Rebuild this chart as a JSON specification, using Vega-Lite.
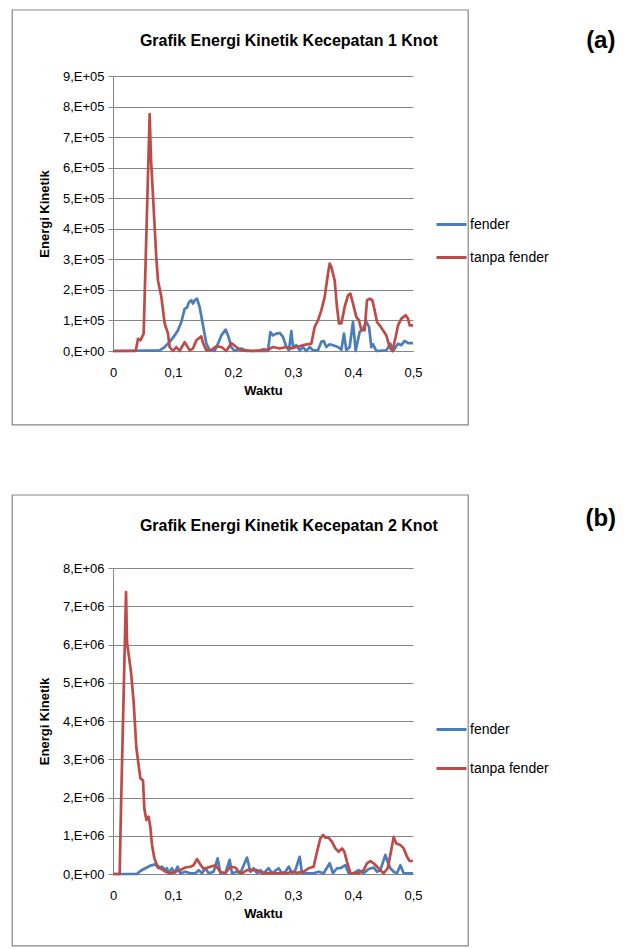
{
"$schema": "https://vega.github.io/schema/vega-lite/v6.json",
"padding": {"left": 11, "top": 9, "right": 5, "bottom": 3},
"background": "white",
"spacing": 68,
"config": {
  "view": {"stroke": null},
  "font": "Liberation Sans",
  "axis": {"labelFont": "Liberation Sans", "titleFont": "Liberation Sans", "labelFontSize": 13, "titleFontSize": 13, "titleFontWeight": "bold", "labelColor": "#000", "titleColor": "#000", "domainColor": "#868686", "tickColor": "#868686", "gridColor": "#868686", "gridOpacity": 1, "labelFlush": false, "labelOverlap": false},
  "axisX": {"tickCount": 5, "grid": false, "ticks": false, "labelPadding": 15, "titlePadding": 5, "labelExpr": "datum.value == 0 ? '0' : replace(format(datum.value, '.1f'), '.', ',')"},
  "axisY": {"tickCount": 10, "grid": true, "tickSize": 5, "labelPadding": 4, "titlePadding": 11, "labelExpr": "datum.value == 0 ? '0,E+00' : (datum.value >= 1000000 ? format(datum.value / 1000000, 'd') + ',E+06' : format(datum.value / 100000, 'd') + ',E+05')"},
  "legend": {"labelFont": "Liberation Sans", "labelFontSize": 14, "labelColor": "#000"}
},
"datasets": {
 "a": [
  {"s":"fender","t":0,"v":0},{"s":"fender","t":0.0778,"v":2000},{"s":"fender","t":0.0861,"v":13000},{"s":"fender","t":0.0944,"v":30000},{"s":"fender","t":0.1028,"v":51000},{"s":"fender","t":0.1083,"v":68000},{"s":"fender","t":0.1139,"v":95000},{"s":"fender","t":0.1194,"v":138000},{"s":"fender","t":0.1233,"v":142000},{"s":"fender","t":0.1267,"v":160000},{"s":"fender","t":0.1306,"v":166000},{"s":"fender","t":0.1333,"v":155000},{"s":"fender","t":0.1361,"v":166000},{"s":"fender","t":0.14,"v":171000},{"s":"fender","t":0.1444,"v":144000},{"s":"fender","t":0.15,"v":84000},{"s":"fender","t":0.1556,"v":24000},{"s":"fender","t":0.1611,"v":2000},{"s":"fender","t":0.1694,"v":0},{"s":"fender","t":0.175,"v":24000},{"s":"fender","t":0.1806,"v":51000},{"s":"fender","t":0.1878,"v":70000},{"s":"fender","t":0.1917,"v":51000},{"s":"fender","t":0.1972,"v":13000},{"s":"fender","t":0.2028,"v":0},{"s":"fender","t":0.2139,"v":8000},{"s":"fender","t":0.2222,"v":0},{"s":"fender","t":0.2583,"v":0},{"s":"fender","t":0.2622,"v":62000},{"s":"fender","t":0.2667,"v":51000},{"s":"fender","t":0.2722,"v":57000},{"s":"fender","t":0.2778,"v":59000},{"s":"fender","t":0.2833,"v":46000},{"s":"fender","t":0.2889,"v":13000},{"s":"fender","t":0.2933,"v":2000},{"s":"fender","t":0.2972,"v":65000},{"s":"fender","t":0.3,"v":13000},{"s":"fender","t":0.3056,"v":19000},{"s":"fender","t":0.3111,"v":2000},{"s":"fender","t":0.3167,"v":13000},{"s":"fender","t":0.3222,"v":0},{"s":"fender","t":0.3278,"v":13000},{"s":"fender","t":0.3333,"v":2000},{"s":"fender","t":0.3417,"v":2000},{"s":"fender","t":0.3472,"v":30000},{"s":"fender","t":0.3511,"v":33000},{"s":"fender","t":0.3556,"v":13000},{"s":"fender","t":0.3611,"v":22000},{"s":"fender","t":0.3667,"v":19000},{"s":"fender","t":0.375,"v":13000},{"s":"fender","t":0.3806,"v":4000},{"s":"fender","t":0.385,"v":57000},{"s":"fender","t":0.3889,"v":2000},{"s":"fender","t":0.3944,"v":13000},{"s":"fender","t":0.4,"v":95000},{"s":"fender","t":0.4044,"v":0},{"s":"fender","t":0.4111,"v":62000},{"s":"fender","t":0.4167,"v":73000},{"s":"fender","t":0.4222,"v":95000},{"s":"fender","t":0.4267,"v":79000},{"s":"fender","t":0.4306,"v":13000},{"s":"fender","t":0.4333,"v":22000},{"s":"fender","t":0.4389,"v":0},{"s":"fender","t":0.4556,"v":2000},{"s":"fender","t":0.4622,"v":24000},{"s":"fender","t":0.4667,"v":0},{"s":"fender","t":0.475,"v":24000},{"s":"fender","t":0.4806,"v":19000},{"s":"fender","t":0.4861,"v":33000},{"s":"fender","t":0.4917,"v":26000},{"s":"fender","t":0.5,"v":26000},
  {"s":"tanpa fender","t":0,"v":0},{"s":"tanpa fender","t":0.0378,"v":0},{"s":"tanpa fender","t":0.0417,"v":40000},{"s":"tanpa fender","t":0.0456,"v":35000},{"s":"tanpa fender","t":0.0511,"v":57000},{"s":"tanpa fender","t":0.0611,"v":775000},{"s":"tanpa fender","t":0.0633,"v":630000},{"s":"tanpa fender","t":0.0722,"v":305000},{"s":"tanpa fender","t":0.075,"v":230000},{"s":"tanpa fender","t":0.0806,"v":177000},{"s":"tanpa fender","t":0.0861,"v":90000},{"s":"tanpa fender","t":0.0917,"v":57000},{"s":"tanpa fender","t":0.0944,"v":13000},{"s":"tanpa fender","t":0.1,"v":0},{"s":"tanpa fender","t":0.1056,"v":13000},{"s":"tanpa fender","t":0.1111,"v":0},{"s":"tanpa fender","t":0.1194,"v":29000},{"s":"tanpa fender","t":0.1278,"v":2000},{"s":"tanpa fender","t":0.1333,"v":8000},{"s":"tanpa fender","t":0.1389,"v":35000},{"s":"tanpa fender","t":0.1472,"v":48000},{"s":"tanpa fender","t":0.15,"v":26000},{"s":"tanpa fender","t":0.1556,"v":2000},{"s":"tanpa fender","t":0.1639,"v":4000},{"s":"tanpa fender","t":0.1722,"v":15000},{"s":"tanpa fender","t":0.1806,"v":13000},{"s":"tanpa fender","t":0.1889,"v":0},{"s":"tanpa fender","t":0.1972,"v":26000},{"s":"tanpa fender","t":0.2056,"v":13000},{"s":"tanpa fender","t":0.2139,"v":2000},{"s":"tanpa fender","t":0.2222,"v":2000},{"s":"tanpa fender","t":0.2333,"v":0},{"s":"tanpa fender","t":0.2444,"v":2000},{"s":"tanpa fender","t":0.25,"v":5000},{"s":"tanpa fender","t":0.2583,"v":4000},{"s":"tanpa fender","t":0.2667,"v":13000},{"s":"tanpa fender","t":0.2778,"v":8000},{"s":"tanpa fender","t":0.2889,"v":13000},{"s":"tanpa fender","t":0.2972,"v":8000},{"s":"tanpa fender","t":0.3056,"v":13000},{"s":"tanpa fender","t":0.3167,"v":19000},{"s":"tanpa fender","t":0.3306,"v":24000},{"s":"tanpa fender","t":0.3361,"v":79000},{"s":"tanpa fender","t":0.3417,"v":100000},{"s":"tanpa fender","t":0.3472,"v":133000},{"s":"tanpa fender","t":0.3528,"v":177000},{"s":"tanpa fender","t":0.3583,"v":253000},{"s":"tanpa fender","t":0.3611,"v":286000},{"s":"tanpa fender","t":0.3639,"v":275000},{"s":"tanpa fender","t":0.3694,"v":231000},{"s":"tanpa fender","t":0.3733,"v":144000},{"s":"tanpa fender","t":0.3767,"v":90000},{"s":"tanpa fender","t":0.3806,"v":90000},{"s":"tanpa fender","t":0.3861,"v":144000},{"s":"tanpa fender","t":0.3917,"v":182000},{"s":"tanpa fender","t":0.3956,"v":188000},{"s":"tanpa fender","t":0.4,"v":155000},{"s":"tanpa fender","t":0.4056,"v":111000},{"s":"tanpa fender","t":0.41,"v":100000},{"s":"tanpa fender","t":0.4139,"v":68000},{"s":"tanpa fender","t":0.4194,"v":68000},{"s":"tanpa fender","t":0.4233,"v":166000},{"s":"tanpa fender","t":0.4278,"v":171000},{"s":"tanpa fender","t":0.4322,"v":166000},{"s":"tanpa fender","t":0.4361,"v":133000},{"s":"tanpa fender","t":0.44,"v":95000},{"s":"tanpa fender","t":0.4444,"v":84000},{"s":"tanpa fender","t":0.45,"v":68000},{"s":"tanpa fender","t":0.4556,"v":51000},{"s":"tanpa fender","t":0.4611,"v":13000},{"s":"tanpa fender","t":0.4656,"v":0},{"s":"tanpa fender","t":0.4711,"v":46000},{"s":"tanpa fender","t":0.475,"v":84000},{"s":"tanpa fender","t":0.4806,"v":106000},{"s":"tanpa fender","t":0.4878,"v":117000},{"s":"tanpa fender","t":0.4917,"v":106000},{"s":"tanpa fender","t":0.4944,"v":84000},{"s":"tanpa fender","t":0.5,"v":84000}
 ],
 "b": [
  {"s":"fender","t":0,"v":0},{"s":"fender","t":0.04,"v":0},{"s":"fender","t":0.0456,"v":80000},{"s":"fender","t":0.0539,"v":150000},{"s":"fender","t":0.0622,"v":220000},{"s":"fender","t":0.0706,"v":250000},{"s":"fender","t":0.0761,"v":150000},{"s":"fender","t":0.0817,"v":190000},{"s":"fender","t":0.0872,"v":100000},{"s":"fender","t":0.09,"v":150000},{"s":"fender","t":0.0928,"v":20000},{"s":"fender","t":0.0983,"v":150000},{"s":"fender","t":0.1022,"v":20000},{"s":"fender","t":0.1078,"v":190000},{"s":"fender","t":0.1122,"v":20000},{"s":"fender","t":0.1206,"v":60000},{"s":"fender","t":0.1289,"v":20000},{"s":"fender","t":0.1372,"v":20000},{"s":"fender","t":0.1428,"v":100000},{"s":"fender","t":0.1483,"v":20000},{"s":"fender","t":0.1539,"v":150000},{"s":"fender","t":0.1594,"v":20000},{"s":"fender","t":0.1678,"v":60000},{"s":"fender","t":0.1744,"v":410000},{"s":"fender","t":0.1789,"v":20000},{"s":"fender","t":0.1872,"v":20000},{"s":"fender","t":0.1944,"v":370000},{"s":"fender","t":0.1983,"v":20000},{"s":"fender","t":0.2067,"v":60000},{"s":"fender","t":0.2122,"v":20000},{"s":"fender","t":0.2233,"v":430000},{"s":"fender","t":0.2289,"v":60000},{"s":"fender","t":0.2344,"v":150000},{"s":"fender","t":0.24,"v":20000},{"s":"fender","t":0.2456,"v":100000},{"s":"fender","t":0.2511,"v":20000},{"s":"fender","t":0.2594,"v":150000},{"s":"fender","t":0.265,"v":20000},{"s":"fender","t":0.2761,"v":150000},{"s":"fender","t":0.2817,"v":20000},{"s":"fender","t":0.2872,"v":60000},{"s":"fender","t":0.2928,"v":190000},{"s":"fender","t":0.2983,"v":20000},{"s":"fender","t":0.3039,"v":100000},{"s":"fender","t":0.3111,"v":450000},{"s":"fender","t":0.315,"v":20000},{"s":"fender","t":0.3344,"v":20000},{"s":"fender","t":0.3428,"v":60000},{"s":"fender","t":0.3511,"v":20000},{"s":"fender","t":0.3611,"v":280000},{"s":"fender","t":0.3667,"v":20000},{"s":"fender","t":0.3733,"v":150000},{"s":"fender","t":0.3789,"v":150000},{"s":"fender","t":0.3872,"v":230000},{"s":"fender","t":0.3928,"v":20000},{"s":"fender","t":0.4011,"v":20000},{"s":"fender","t":0.4094,"v":100000},{"s":"fender","t":0.4178,"v":20000},{"s":"fender","t":0.4261,"v":130000},{"s":"fender","t":0.4344,"v":170000},{"s":"fender","t":0.44,"v":60000},{"s":"fender","t":0.4456,"v":100000},{"s":"fender","t":0.4539,"v":500000},{"s":"fender","t":0.4578,"v":320000},{"s":"fender","t":0.4622,"v":150000},{"s":"fender","t":0.4678,"v":60000},{"s":"fender","t":0.4733,"v":20000},{"s":"fender","t":0.4789,"v":230000},{"s":"fender","t":0.4844,"v":20000},{"s":"fender","t":0.5,"v":20000},
  {"s":"tanpa fender","t":0,"v":0},{"s":"tanpa fender","t":0.0111,"v":0},{"s":"tanpa fender","t":0.0133,"v":1710000},{"s":"tanpa fender","t":0.0217,"v":7370000},{"s":"tanpa fender","t":0.0233,"v":6070000},{"s":"tanpa fender","t":0.03,"v":5280000},{"s":"tanpa fender","t":0.0344,"v":4500000},{"s":"tanpa fender","t":0.0389,"v":3300000},{"s":"tanpa fender","t":0.0456,"v":2500000},{"s":"tanpa fender","t":0.05,"v":2450000},{"s":"tanpa fender","t":0.0522,"v":1710000},{"s":"tanpa fender","t":0.0556,"v":1410000},{"s":"tanpa fender","t":0.0594,"v":1500000},{"s":"tanpa fender","t":0.0622,"v":1230000},{"s":"tanpa fender","t":0.065,"v":760000},{"s":"tanpa fender","t":0.0689,"v":410000},{"s":"tanpa fender","t":0.0733,"v":230000},{"s":"tanpa fender","t":0.0789,"v":150000},{"s":"tanpa fender","t":0.0872,"v":60000},{"s":"tanpa fender","t":0.0956,"v":20000},{"s":"tanpa fender","t":0.1039,"v":60000},{"s":"tanpa fender","t":0.1122,"v":100000},{"s":"tanpa fender","t":0.1206,"v":170000},{"s":"tanpa fender","t":0.1289,"v":190000},{"s":"tanpa fender","t":0.1344,"v":230000},{"s":"tanpa fender","t":0.14,"v":390000},{"s":"tanpa fender","t":0.1456,"v":250000},{"s":"tanpa fender","t":0.1511,"v":130000},{"s":"tanpa fender","t":0.1622,"v":190000},{"s":"tanpa fender","t":0.1706,"v":230000},{"s":"tanpa fender","t":0.1789,"v":60000},{"s":"tanpa fender","t":0.1872,"v":20000},{"s":"tanpa fender","t":0.1956,"v":190000},{"s":"tanpa fender","t":0.2039,"v":170000},{"s":"tanpa fender","t":0.2094,"v":60000},{"s":"tanpa fender","t":0.215,"v":20000},{"s":"tanpa fender","t":0.2233,"v":100000},{"s":"tanpa fender","t":0.2317,"v":100000},{"s":"tanpa fender","t":0.24,"v":100000},{"s":"tanpa fender","t":0.2483,"v":20000},{"s":"tanpa fender","t":0.2567,"v":20000},{"s":"tanpa fender","t":0.29,"v":20000},{"s":"tanpa fender","t":0.2983,"v":60000},{"s":"tanpa fender","t":0.3067,"v":30000},{"s":"tanpa fender","t":0.3178,"v":60000},{"s":"tanpa fender","t":0.3261,"v":150000},{"s":"tanpa fender","t":0.3344,"v":190000},{"s":"tanpa fender","t":0.34,"v":580000},{"s":"tanpa fender","t":0.3456,"v":930000},{"s":"tanpa fender","t":0.35,"v":1020000},{"s":"tanpa fender","t":0.3539,"v":950000},{"s":"tanpa fender","t":0.3594,"v":950000},{"s":"tanpa fender","t":0.365,"v":840000},{"s":"tanpa fender","t":0.3706,"v":670000},{"s":"tanpa fender","t":0.3761,"v":580000},{"s":"tanpa fender","t":0.3817,"v":670000},{"s":"tanpa fender","t":0.3856,"v":580000},{"s":"tanpa fender","t":0.39,"v":320000},{"s":"tanpa fender","t":0.3956,"v":20000},{"s":"tanpa fender","t":0.4094,"v":20000},{"s":"tanpa fender","t":0.4178,"v":100000},{"s":"tanpa fender","t":0.4233,"v":280000},{"s":"tanpa fender","t":0.4289,"v":340000},{"s":"tanpa fender","t":0.4344,"v":280000},{"s":"tanpa fender","t":0.44,"v":190000},{"s":"tanpa fender","t":0.4456,"v":100000},{"s":"tanpa fender","t":0.4511,"v":20000},{"s":"tanpa fender","t":0.4578,"v":150000},{"s":"tanpa fender","t":0.4622,"v":500000},{"s":"tanpa fender","t":0.4678,"v":970000},{"s":"tanpa fender","t":0.4722,"v":800000},{"s":"tanpa fender","t":0.4789,"v":760000},{"s":"tanpa fender","t":0.4844,"v":670000},{"s":"tanpa fender","t":0.49,"v":450000},{"s":"tanpa fender","t":0.4944,"v":340000},{"s":"tanpa fender","t":0.5,"v":340000}
 ]
},
"resolve": {"scale": {"x": "independent", "y": "independent", "color": "independent"}, "legend": {"color": "independent"}},
"vconcat": [
 {
  "width": 300, "height": 275,
  "layer": [
   {"data": {"name": "a"}, "mark": {"type": "line", "strokeWidth": 2.7, "strokeJoin": "round"},
    "encoding": {
     "x": {"field": "t", "type": "quantitative", "title": "Waktu", "scale": {"domain": [0, 0.5], "nice": false, "zero": false}},
     "y": {"field": "v", "type": "quantitative", "title": "Energi Kinetik", "scale": {"domain": [0, 900000], "nice": false}},
     "color": {"field": "s", "type": "nominal", "scale": {"domain": ["fender", "tanpa fender"], "range": ["#4A7EBB", "#BE4B48"]},
       "legend": {"orient": "none", "legendX": 322, "legendY": 132, "title": null, "symbolType": "stroke", "symbolSize": 900, "symbolStrokeWidth": 3, "rowPadding": 9, "labelOffset": 2, "padding": 0}}
    }},
   {"data": {"values": [{}]}, "mark": {"type": "rect", "fillOpacity": 0, "stroke": "#868686", "strokeWidth": 1.2},
    "encoding": {"x": {"datum": -0.168, "type": "quantitative", "title": "Waktu"}, "x2": {"datum": 0.592}, "y": {"datum": 1116000, "type": "quantitative", "title": "Energi Kinetik"}, "y2": {"datum": -242000}}},
   {"data": {"values": [{}]}, "mark": {"type": "text", "fontSize": 16, "fontWeight": "bold", "font": "Liberation Sans", "align": "center", "baseline": "middle", "color": "#000"},
    "encoding": {"x": {"datum": 0.293, "type": "quantitative", "title": "Waktu"}, "y": {"datum": 1015000, "type": "quantitative", "title": "Energi Kinetik"}, "text": {"value": "Grafik Energi Kinetik Kecepatan 1 Knot"}}},
   {"data": {"values": [{}]}, "mark": {"type": "text", "fontSize": 24, "fontWeight": "bold", "font": "Liberation Sans", "align": "center", "baseline": "middle", "color": "#000"},
    "encoding": {"x": {"datum": 0.813, "type": "quantitative", "title": "Waktu"}, "y": {"datum": 1015000, "type": "quantitative", "title": "Energi Kinetik"}, "text": {"value": "(a)"}}}
  ]
 },
 {
  "width": 300, "height": 306,
  "layer": [
   {"data": {"name": "b"}, "mark": {"type": "line", "strokeWidth": 2.7, "strokeJoin": "round"},
    "encoding": {
     "x": {"field": "t", "type": "quantitative", "title": "Waktu", "scale": {"domain": [0, 0.5], "nice": false, "zero": false}},
     "y": {"field": "v", "type": "quantitative", "title": "Energi Kinetik", "scale": {"domain": [0, 8000000], "nice": false}},
     "color": {"field": "s", "type": "nominal", "scale": {"domain": ["fender", "tanpa fender"], "range": ["#4A7EBB", "#BE4B48"]},
       "legend": {"orient": "none", "legendX": 322, "legendY": 145, "title": null, "symbolType": "stroke", "symbolSize": 900, "symbolStrokeWidth": 3, "rowPadding": 15, "labelOffset": 2, "padding": 0}}
    }},
   {"data": {"values": [{}]}, "mark": {"type": "rect", "fillOpacity": 0, "stroke": "#868686", "strokeWidth": 1.2},
    "encoding": {"x": {"datum": -0.168, "type": "quantitative", "title": "Waktu"}, "x2": {"datum": 0.592}, "y": {"datum": 9908000, "type": "quantitative", "title": "Energi Kinetik"}, "y2": {"datum": -1880000}}},
   {"data": {"values": [{}]}, "mark": {"type": "text", "fontSize": 16, "fontWeight": "bold", "font": "Liberation Sans", "align": "center", "baseline": "middle", "color": "#000"},
    "encoding": {"x": {"datum": 0.293, "type": "quantitative", "title": "Waktu"}, "y": {"datum": 9100000, "type": "quantitative", "title": "Energi Kinetik"}, "text": {"value": "Grafik Energi Kinetik Kecepatan 2 Knot"}}},
   {"data": {"values": [{}]}, "mark": {"type": "text", "fontSize": 24, "fontWeight": "bold", "font": "Liberation Sans", "align": "center", "baseline": "middle", "color": "#000"},
    "encoding": {"x": {"datum": 0.813, "type": "quantitative", "title": "Waktu"}, "y": {"datum": 9280000, "type": "quantitative", "title": "Energi Kinetik"}, "text": {"value": "(b)"}}}
  ]
 }
]
}
